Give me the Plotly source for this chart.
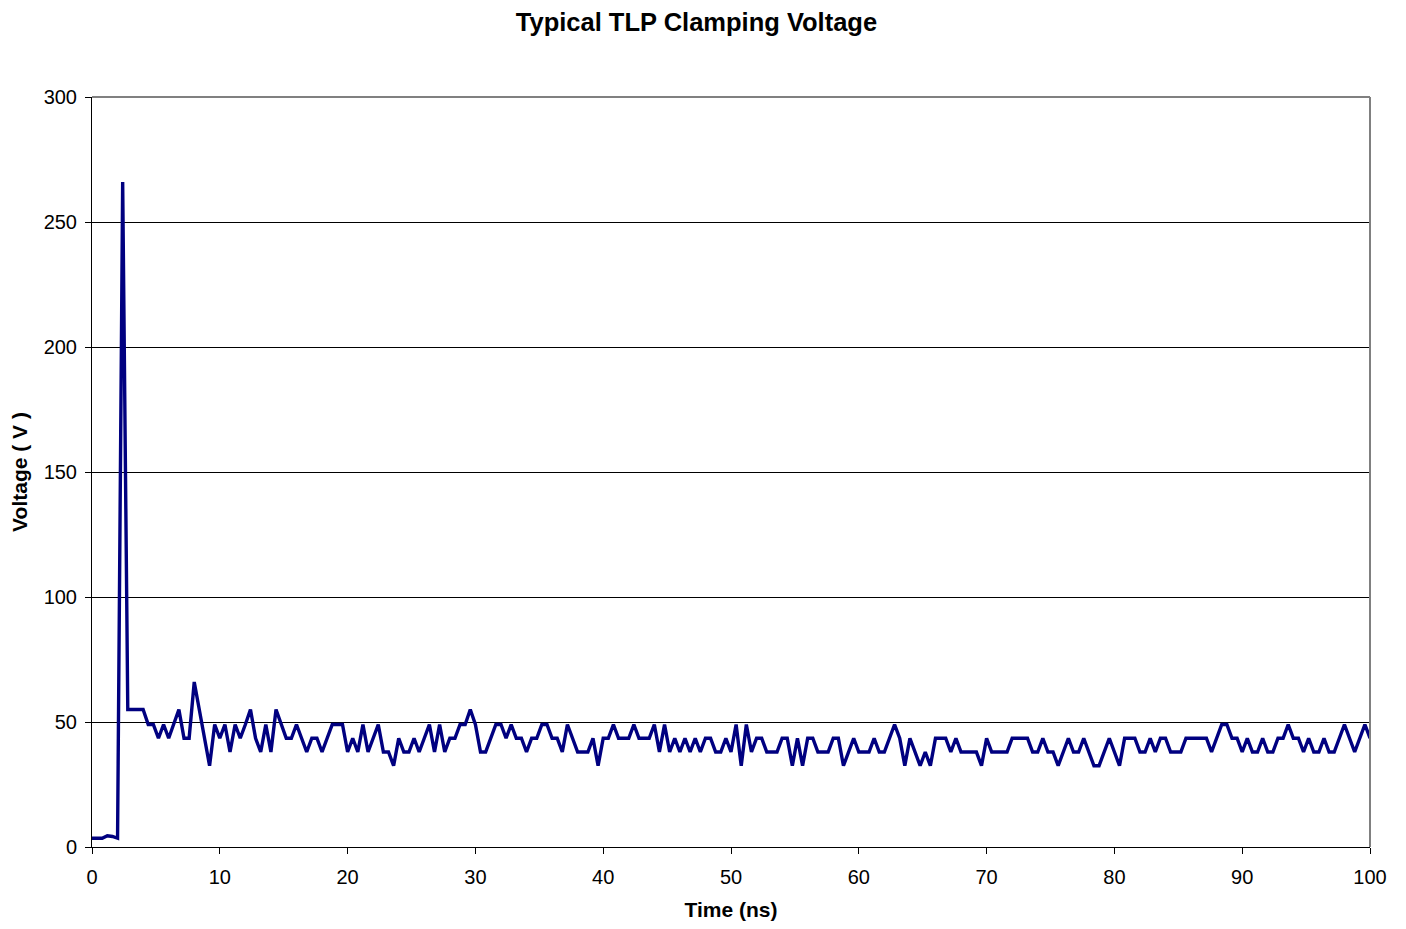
import plotly.graph_objects as go

# Sampling interval of the TLP waveform (ns)
sample_interval_ns = 0.4

voltage_v = [
    3.5, 3.5, 3.5, 4.5, 4.2, 3.5, 266, 55, 55, 55,
    55, 49, 49, 43.5, 49, 43.5, 49, 55, 43.5, 43.5,
    66, 55, 43.5, 32.5, 49, 43.5, 49, 38, 49, 43.5,
    49, 55, 43.5, 38, 49, 38, 55, 49, 43.5, 43.5,
    49, 43.5, 38, 43.5, 43.5, 38, 43.5, 49, 49, 49,
    38, 43.5, 38, 49, 38, 43.5, 49, 38, 38, 32.5,
    43.5, 38, 38, 43.5, 38, 43.5, 49, 38, 49, 38,
    43.5, 43.5, 49, 49, 55, 49, 38, 38, 43.5, 49,
    49, 43.5, 49, 43.5, 43.5, 38, 43.5, 43.5, 49, 49,
    43.5, 43.5, 38, 49, 43.5, 38, 38, 38, 43.5, 32.5,
    43.5, 43.5, 49, 43.5, 43.5, 43.5, 49, 43.5, 43.5, 43.5,
    49, 38, 49, 38, 43.5, 38, 43.5, 38, 43.5, 38,
    43.5, 43.5, 38, 38, 43.5, 38, 49, 32.5, 49, 38,
    43.5, 43.5, 38, 38, 38, 43.5, 43.5, 32.5, 43.5, 32.5,
    43.5, 43.5, 38, 38, 38, 43.5, 43.5, 32.5, 38, 43.5,
    38, 38, 38, 43.5, 38, 38, 43.5, 49, 43.5, 32.5,
    43.5, 38, 32.5, 38, 32.5, 43.5, 43.5, 43.5, 38, 43.5,
    38, 38, 38, 38, 32.5, 43.5, 38, 38, 38, 38,
    43.5, 43.5, 43.5, 43.5, 38, 38, 43.5, 38, 38, 32.5,
    38, 43.5, 38, 38, 43.5, 38, 32.5, 32.5, 38, 43.5,
    38, 32.5, 43.5, 43.5, 43.5, 38, 38, 43.5, 38, 43.5,
    43.5, 38, 38, 38, 43.5, 43.5, 43.5, 43.5, 43.5, 38,
    43.5, 49, 49, 43.5, 43.5, 38, 43.5, 38, 38, 43.5,
    38, 38, 43.5, 43.5, 49, 43.5, 43.5, 38, 43.5, 38,
    38, 43.5, 38, 38, 43.5, 49, 43.5, 38, 43.5, 49,
    43.5,
]
time_ns = [round(i * sample_interval_ns, 2) for i in range(len(voltage_v))]

x_ticks = [0, 10, 20, 30, 40, 50, 60, 70, 80, 90, 100]
y_ticks = [0, 50, 100, 150, 200, 250, 300]

FONT = "Liberation Sans, Arial, sans-serif"

fig = go.Figure()
fig.add_trace(go.Scatter(
    x=time_ns, y=voltage_v, mode="lines",
    line=dict(color="#000080", width=3.4),
    showlegend=False, hoverinfo="x+y",
))

# page body has an 8px margin, so the figure is sized to fit the window
fig.update_layout(
    width=1390, height=913,
    margin=dict(l=84, r=28, t=89, b=74, autoexpand=False),
    paper_bgcolor="white", plot_bgcolor="white",
    font=dict(family=FONT, size=20, color="black"),
    title=dict(text="<b>Typical TLP Clamping Voltage</b>",
               x=0.4953, xanchor="center", y=0.9847, yanchor="middle",
               font=dict(family=FONT, size=25.5, color="black")),
    xaxis=dict(
        range=[0, 100], tickvals=x_ticks, ticks="outside", ticklen=6,
        tickcolor="black", showgrid=False, showline=True, linecolor="black",
        linewidth=1, zeroline=False, ticklabelstandoff=6, automargin=False,
        tickfont=dict(family=FONT, size=20),
        title=dict(text="<b>Time (ns)</b>", font=dict(family=FONT, size=21), standoff=17),
    ),
    yaxis=dict(
        range=[0, 300], tickvals=y_ticks, ticks="outside", ticklen=6,
        tickcolor="black", showgrid=True, gridcolor="black", gridwidth=1,
        showline=True, linecolor="black", linewidth=1, zeroline=False,
        ticklabelstandoff=4, automargin=False,
        tickfont=dict(family=FONT, size=20),
        title=dict(text="<b>Voltage ( V )</b>", font=dict(family=FONT, size=21), standoff=12),
    ),
)

# Grey frame on the top and right of the plot area
fig.add_shape(type="line", xref="paper", yref="paper", x0=0, x1=1, y0=1, y1=1,
              line=dict(color="#808080", width=2))
fig.add_shape(type="line", xref="paper", yref="paper", x0=1, x1=1, y0=0, y1=1,
              line=dict(color="#808080", width=2))

fig.write_html("out.html")
